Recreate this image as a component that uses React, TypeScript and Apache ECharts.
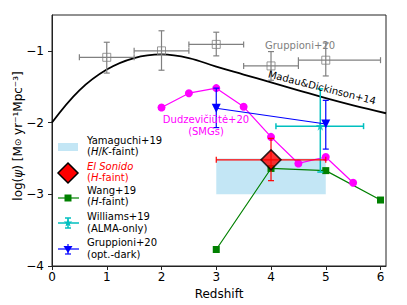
import React, { useEffect, useRef } from "react";
import * as echarts from "echarts";

// Madau & Dickinson 2014 curve
const MD_Z = [0, 0.5, 1, 1.5, 2, 2.5, 3, 3.5, 4, 4.5, 5, 5.5, 6.1];
const MD_LOG = [-2.0, -1.55, -1.26, -1.10, -1.05, -1.10, -1.22, -1.33, -1.44, -1.55, -1.66, -1.76, -1.87];

// Gruppioni+20 (grey, total)
const GR_Z = [1, 2, 3, 4, 5];
const GR_LOG = [-1.09, -1.0, -0.91, -1.21, -1.13];
const GR_ZLO = [0.5, 1.5, 2.5, 3.5, 4.5];
const GR_ZHI = [1.5, 2.5, 3.5, 4.5, 6.0];
const GR_LO = [-1.31, -1.27, -1.07, -1.41, -1.35];
const GR_HI = [-0.88, -0.72, -0.74, -1.01, -0.89];

// Dudzeviciute+20 (SMGs)
const DU_Z = [2, 2.5, 3, 3.5, 4, 4.5, 5, 5.5];
const DU_LOG = [-1.79, -1.59, -1.52, -1.78, -2.2, -2.57, -2.48, -2.84];

// Wang+19 (H-faint)
const WA_Z = [3, 4, 5, 6];
const WA_LOG = [-3.77, -2.64, -2.67, -3.08];

// Gruppioni+20 (opt.-dark)
const GD_Z = [3, 5];
const GD_LOG = [-1.8, -2.02];
const GD_LO = [-2.07, -2.37];
const GD_HI = [-1.52, -1.69];

// Williams+19 (ALMA-only)
const WI_Z = [4.9];
const WI_LOG = [-2.05];
const WI_ZLO = [4.09];
const WI_ZHI = [5.69];
const WI_LO = [-2.69];
const WI_HI = [-1.53];

// El Sonido
const ES_Z = [4];
const ES_LOG = [-2.52];
const ES_ZLO = [3];
const ES_ZHI = [5];
const ES_LO = [-2.81];
const ES_HI = [-2.22];

// Yamaguchi+19 box
const YA_Z = [3, 5];
const YA_LOG = [-3.0, -2.5];

const X_TICKS = [0, 1, 2, 3, 4, 5, 6];
const Y_TICKS = [-4, -3, -2, -1];

const FONT = "'DejaVu Sans', sans-serif";
const GRAY = "#808080";
const MAGENTA = "#ff00ff";
const GREEN = "#008000";
const BLUE = "#0000ff";
const CYAN = "#00bfbf";
const RED = "#ff0000";

const STAR =
  "path://M0,-10L2.35,-3.24L9.51,-3.09L3.8,1.24L5.88,8.09L0,4L-5.88,8.09L-3.8,1.24L-9.51,-3.09L-2.35,-3.24Z";

function errData(z: number[], v: number[], zlo: (number | null)[] | null, zhi: (number | null)[] | null, lo: number[] | null, hi: number[] | null) {
  return z.map((x, i) => [
    x,
    v[i],
    zlo ? zlo[i] : NaN,
    zhi ? zhi[i] : NaN,
    lo ? lo[i] : NaN,
    hi ? hi[i] : NaN,
  ]);
}

function errSeries(data: number[][], color: string, z: number, width = 1.2, cap = 3) {
  return {
    type: "custom",
    z,
    silent: true,
    data,
    encode: { x: 0, y: 1 },
    renderItem: (_p: any, api: any) => {
      const x = api.value(0);
      const y = api.value(1);
      const xl = api.value(2);
      const xh = api.value(3);
      const yl = api.value(4);
      const yh = api.value(5);
      const st = { stroke: color, lineWidth: width, fill: "none" };
      const ch: any[] = [];
      if (!isNaN(xl) && !isNaN(xh)) {
        const a = api.coord([xl, y]);
        const b = api.coord([xh, y]);
        ch.push({ type: "line", shape: { x1: a[0], y1: a[1], x2: b[0], y2: b[1] }, style: st });
        ch.push({ type: "line", shape: { x1: a[0], y1: a[1] - cap, x2: a[0], y2: a[1] + cap }, style: st });
        ch.push({ type: "line", shape: { x1: b[0], y1: b[1] - cap, x2: b[0], y2: b[1] + cap }, style: st });
      }
      if (!isNaN(yl) && !isNaN(yh)) {
        const a = api.coord([x, yl]);
        const b = api.coord([x, yh]);
        ch.push({ type: "line", shape: { x1: a[0], y1: a[1], x2: b[0], y2: b[1] }, style: st });
        ch.push({ type: "line", shape: { x1: a[0] - cap, y1: a[1], x2: a[0] + cap, y2: a[1] }, style: st });
        ch.push({ type: "line", shape: { x1: b[0] - cap, y1: b[1], x2: b[0] + cap, y2: b[1] }, style: st });
      }
      return { type: "group", children: ch };
    },
  };
}

function rt(color: string, size = 10) {
  return {
    r: { fontFamily: FONT, fontSize: size, fill: color, color },
    i: { fontFamily: FONT, fontSize: size, fontStyle: "italic", fill: color, color },
  };
}

function legText(x: number, y: number, text: string, color: string) {
  return {
    type: "text",
    x,
    y,
    z: 100,
    style: {
      text,
      rich: rt(color),
      fontFamily: FONT,
      fontSize: 10,
      fill: color,
      align: "left",
      verticalAlign: "middle",
    },
  };
}

export default function App() {
  const ref = useRef<HTMLDivElement>(null);
  useEffect(() => {
    document.body.style.margin = "0";
    const chart = echarts.init(ref.current!, null, { renderer: "svg" });
    const lx = 68;
    const lineL = 58;
    const lineR = 79;
    const graphic: any[] = [
      // y axis label
      {
        type: "text",
        x: 18,
        y: 136,
        rotation: Math.PI / 2,
        style: {
          text: "{r|log(}{i|ψ}{r|) [M}{s|⊙}{r| yr⁻¹Mpc⁻³]}",
          rich: {
            r: { fontFamily: FONT, fontSize: 12, fill: "#000" },
            i: { fontFamily: FONT, fontSize: 12, fontStyle: "italic", fill: "#000" },
            s: { fontFamily: FONT, fontSize: 9, fill: "#000" },
          },
          align: "center",
          verticalAlign: "middle",
        },
      },
      // curve labels
      {
        type: "text",
        x: 322,
        y: 87.5,
        rotation: -0.25,
        z: 50,
        style: { text: "Madau&Dickinson+14", fontFamily: FONT, fontSize: 10, fill: "#000", align: "center", verticalAlign: "middle" },
      },
      {
        type: "text",
        x: 300,
        y: 45,
        z: 50,
        style: { text: "Gruppioni+20", fontFamily: FONT, fontSize: 10, fill: GRAY, align: "center", verticalAlign: "middle" },
      },
      {
        type: "text",
        x: 206,
        y: 125.5,
        z: 50,
        style: {
          text: "Dudzevičiūtė+20\n(SMGs)",
          fontFamily: FONT,
          fontSize: 10,
          lineHeight: 11.5,
          fill: MAGENTA,
          align: "center",
          verticalAlign: "middle",
        },
      },
      // legend: Yamaguchi
      { type: "rect", z: 100, shape: { x: 58, y: 143, width: 20, height: 8 }, style: { fill: "rgba(135,206,235,0.5)" } },
      legText(87, 140, "{r|Yamaguchi+19}", "#000"),
      legText(87, 151.5, "{r|(}{i|H}{r|/}{i|K}{r|-faint)}", "#000"),
      // El Sonido
      {
        type: "polygon",
        z: 100,
        shape: { points: [[lx, 163], [lx + 10, 173], [lx, 183], [lx - 10, 173]] },
        style: { fill: RED, stroke: "#000", lineWidth: 1.5 },
      },
      legText(87, 166, "{i|El Sonido}", RED),
      legText(87, 177, "{r|(}{i|H}{r|-faint)}", RED),
      // Wang
      { type: "line", z: 100, shape: { x1: lineL, y1: 198, x2: lineR, y2: 198 }, style: { stroke: GREEN, lineWidth: 1.2 } },
      { type: "rect", z: 101, shape: { x: lx - 3.5, y: 194.5, width: 7, height: 7 }, style: { fill: GREEN } },
      legText(87, 190.7, "{r|Wang+19}", "#000"),
      legText(87, 201.7, "{r|(}{i|H}{r|-faint)}", "#000"),
      // Williams
      { type: "line", z: 100, shape: { x1: lineL, y1: 223, x2: lineR, y2: 223 }, style: { stroke: CYAN, lineWidth: 1.5 } },
      { type: "line", z: 100, shape: { x1: lx, y1: 218, x2: lx, y2: 228 }, style: { stroke: CYAN, lineWidth: 1.5 } },
      { type: "line", z: 100, shape: { x1: lx - 3, y1: 218, x2: lx + 3, y2: 218 }, style: { stroke: CYAN, lineWidth: 1.5 } },
      { type: "line", z: 100, shape: { x1: lx - 3, y1: 228, x2: lx + 3, y2: 228 }, style: { stroke: CYAN, lineWidth: 1.5 } },
      {
        type: "polygon",
        z: 101,
        shape: {
          points: [
            [lx, 218.5], [lx + 1.1, 221.5], [lx + 4.3, 221.6], [lx + 1.7, 223.6], [lx + 2.6, 226.6],
            [lx, 224.8], [lx - 2.6, 226.6], [lx - 1.7, 223.6], [lx - 4.3, 221.6], [lx - 1.1, 221.5],
          ],
        },
        style: { fill: CYAN },
      },
      legText(87, 216.7, "{r|Williams+19}", "#000"),
      legText(87, 228.7, "{r|(ALMA-only)}", "#000"),
      // Gruppioni opt-dark
      { type: "line", z: 100, shape: { x1: lineL, y1: 249, x2: lineR, y2: 249 }, style: { stroke: BLUE, lineWidth: 1.2 } },
      { type: "line", z: 100, shape: { x1: lx, y1: 244, x2: lx, y2: 254 }, style: { stroke: BLUE, lineWidth: 1.2 } },
      { type: "line", z: 100, shape: { x1: lx - 3, y1: 254, x2: lx + 3, y2: 254 }, style: { stroke: BLUE, lineWidth: 1.2 } },
      {
        type: "polygon",
        z: 101,
        shape: { points: [[lx - 4.5, 246], [lx + 4.5, 246], [lx, 253]] },
        style: { fill: BLUE },
      },
      legText(87, 242.7, "{r|Gruppioni+20}", "#000"),
      legText(87, 254.3, "{r|(opt.-dark)}", "#000"),
    ];

    const fmt = (v: number) => String(v).replace("-", "−");

    chart.setOption({
      animation: false,
      backgroundColor: "#fff",
      grid: {
        left: 52,
        right: 21,
        top: 15,
        bottom: 39,
        show: true,
        borderColor: "#222",
        borderWidth: 1,
        backgroundColor: "transparent",
        outerBoundsMode: "none",
        containLabel: false,
      },
      xAxis: {
        type: "value",
        min: 0,
        max: 6.1,
        name: "Redshift",
        nameLocation: "middle",
        nameGap: 16,
        nameTextStyle: { fontFamily: FONT, fontSize: 12, color: "#000" },
        axisLine: { show: true, lineStyle: { color: "#222", width: 1 } },
        axisTick: { show: true, inside: false, length: 4, customValues: X_TICKS, lineStyle: { color: "#222" } },
        axisLabel: { customValues: X_TICKS, formatter: fmt, fontFamily: FONT, fontSize: 12, color: "#000", margin: 5 },
        splitLine: { show: false },
      },
      yAxis: {
        type: "value",
        min: -4,
        max: -0.5,
        axisLine: { show: true, lineStyle: { color: "#222", width: 1 } },
        axisTick: { show: true, inside: false, length: 4, customValues: Y_TICKS, lineStyle: { color: "#222" } },
        axisLabel: { customValues: Y_TICKS, formatter: fmt, fontFamily: FONT, fontSize: 12, color: "#000", margin: 8 },
        splitLine: { show: false },
      },
      graphic,
      series: [
        {
          type: "custom",
          z: 1,
          silent: true,
          data: [[YA_Z[0], YA_LOG[0], YA_Z[1], YA_LOG[1]]],
          encode: { x: [0, 2], y: [1, 3] },
          renderItem: (_p: any, api: any) => {
            const a = api.coord([api.value(0), api.value(3)]);
            const b = api.coord([api.value(2), api.value(1)]);
            return {
              type: "rect",
              shape: { x: a[0], y: a[1], width: b[0] - a[0], height: b[1] - a[1] },
              style: { fill: "rgba(135,206,235,0.5)" },
            };
          },
        },
        {
          type: "line",
          z: 2,
          smooth: 0.4,
          showSymbol: false,
          symbol: "none",
          data: MD_Z.map((z, i) => [z, MD_LOG[i]]),
          lineStyle: { color: "#000", width: 1.8 },
        },
        errSeries(errData(GR_Z, GR_LOG, GR_ZLO, GR_ZHI, GR_LO, GR_HI), GRAY, 3, 1.2, 3),
        {
          type: "scatter",
          z: 4,
          symbol: "rect",
          symbolSize: 8,
          data: GR_Z.map((z, i) => [z, GR_LOG[i]]),
          itemStyle: { color: "rgba(0,0,0,0)", borderColor: GRAY, borderWidth: 1 },
        },
        {
          type: "line",
          z: 5,
          symbol: "rect",
          symbolSize: 7,
          data: WA_Z.map((z, i) => [z, WA_LOG[i]]),
          lineStyle: { color: GREEN, width: 1.2 },
          itemStyle: { color: GREEN },
        },
        {
          type: "line",
          z: 6,
          symbol: "circle",
          symbolSize: 8,
          data: DU_Z.map((z, i) => [z, DU_LOG[i]]),
          lineStyle: { color: MAGENTA, width: 1.2 },
          itemStyle: { color: MAGENTA },
        },
        errSeries(errData(WI_Z, WI_LOG, WI_ZLO, WI_ZHI, WI_LO, WI_HI), CYAN, 7, 1.5, 3),
        {
          type: "scatter",
          z: 8,
          symbol: STAR,
          symbolSize: 9,
          data: WI_Z.map((z, i) => [z, WI_LOG[i]]),
          itemStyle: { color: CYAN },
        },
        errSeries(errData(GD_Z, GD_LOG, null, null, GD_LO, GD_HI), BLUE, 9, 1.2, 3),
        {
          type: "line",
          z: 10,
          symbol: "triangle",
          symbolRotate: 180,
          symbolSize: 9,
          data: GD_Z.map((z, i) => [z, GD_LOG[i]]),
          lineStyle: { color: BLUE, width: 1.2 },
          itemStyle: { color: BLUE },
        },
        errSeries(errData(ES_Z, ES_LOG, ES_ZLO, ES_ZHI, ES_LO, ES_HI), RED, 11, 1.2, 3),
        {
          type: "scatter",
          z: 12,
          symbol: "diamond",
          symbolSize: [20, 20],
          data: ES_Z.map((z, i) => [z, ES_LOG[i]]),
          itemStyle: { color: RED, borderColor: "#000", borderWidth: 1.5 },
        },
      ],
    });
    return () => chart.dispose();
  }, []);
  return <div ref={ref} style={{ position: "absolute", left: 0, top: 0, width: 407, height: 305 }} />;
}
